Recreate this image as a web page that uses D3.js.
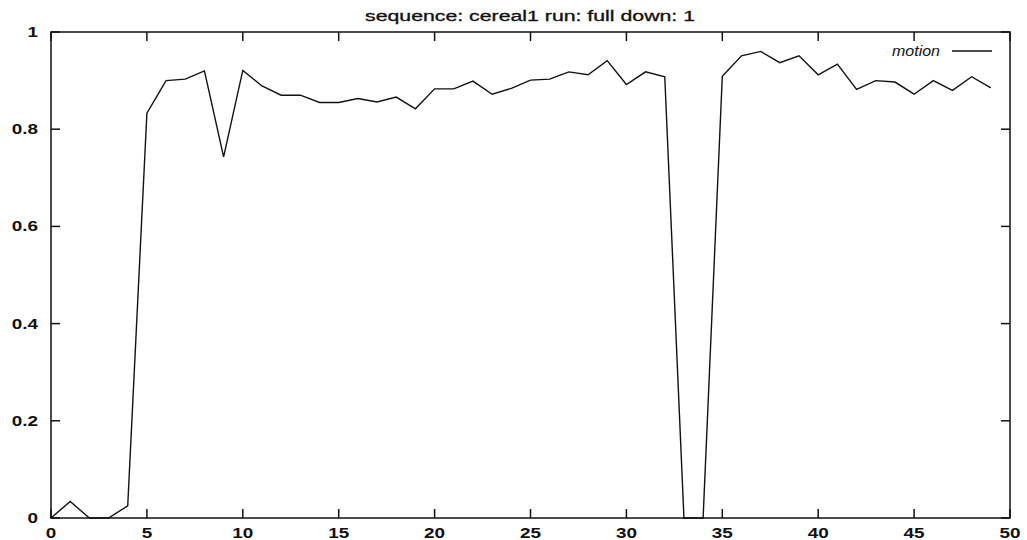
<!DOCTYPE html>
<html lang="en">
	<head>
		<meta charset="utf-8">
		<title>motion</title>
		<script type="text/javascript" src="https://cdn.jsdelivr.net/npm/d3@7"></script>
		<style type="text/css">
			body { margin: 0; background: #fff; }
			text { font-family: "Liberation Sans", Arial, sans-serif; fill: #111; }
		</style>
	</head>
	<body>
		<script type="text/javascript">

			var frames = d3.range(0, 50)
			var motion = [0, 0.034, 0, 0, 0.025, 0.833, 0.900, 0.903, 0.920, 0.743,
				0.921, 0.889, 0.870, 0.870, 0.855, 0.855, 0.863, 0.856, 0.866, 0.842,
				0.883, 0.883, 0.899, 0.872, 0.884, 0.901, 0.903, 0.918, 0.912, 0.941,
				0.892, 0.918, 0.908, 0, 0, 0.909, 0.951, 0.960, 0.937, 0.951,
				0.912, 0.934, 0.882, 0.900, 0.897, 0.872, 0.900, 0.880, 0.908, 0.885]
			var xticks = [0, 5, 10, 15, 20, 25, 30, 35, 40, 45, 50]
			var yticks = [0, 0.2, 0.4, 0.6, 0.8, 1]
			var title = "sequence: cereal1 run: full down: 1"
			var seriesName = "motion"

			var w = 1027, h = 540
			var pLeft = 51, pRight = 1010, pTop = 32, pBottom = 518
			var stretch = 1.35   // the scanned glyphs are wide

			var svg = d3.select("body").append("svg").attr("width", w).attr("height", h)

			var xscale = d3.scaleLinear().domain([0, 50]).range([pLeft, pRight])
			var yscale = d3.scaleLinear().domain([0, 1]).range([pBottom, pTop])

			// frame
			svg.append("rect")
				.attr("x", pLeft).attr("y", pTop)
				.attr("width", pRight - pLeft).attr("height", pBottom - pTop)
				.attr("fill", "none").attr("stroke", "#111").attr("stroke-width", 1.5)

			// ticks on all four sides, pointing inward
			var tl = 9
			svg.selectAll(".xtb").data(xticks).enter().append("line")
				.attr("x1", function(d) { return xscale(d) }).attr("x2", function(d) { return xscale(d) })
				.attr("y1", pBottom).attr("y2", pBottom - tl)
				.attr("stroke", "#111").attr("stroke-width", 1.5)
			svg.selectAll(".xtt").data(xticks).enter().append("line")
				.attr("x1", function(d) { return xscale(d) }).attr("x2", function(d) { return xscale(d) })
				.attr("y1", pTop).attr("y2", pTop + tl)
				.attr("stroke", "#111").attr("stroke-width", 1.5)
			svg.selectAll(".ytl").data(yticks).enter().append("line")
				.attr("x1", pLeft).attr("x2", pLeft + tl)
				.attr("y1", function(d) { return yscale(d) }).attr("y2", function(d) { return yscale(d) })
				.attr("stroke", "#111").attr("stroke-width", 1.5)
			svg.selectAll(".ytr").data(yticks).enter().append("line")
				.attr("x1", pRight).attr("x2", pRight - tl)
				.attr("y1", function(d) { return yscale(d) }).attr("y2", function(d) { return yscale(d) })
				.attr("stroke", "#111").attr("stroke-width", 1.5)

			// tick labels
			svg.selectAll(".xl").data(xticks).enter().append("text")
				.attr("transform", function(d) { return "translate(" + xscale(d) + "," + (pBottom + 20) + ") scale(" + stretch + ",1)" })
				.attr("text-anchor", "middle")
				.attr("font-size", "14px").attr("font-weight", "bold")
				.text(function(d) { return d })
			svg.selectAll(".yl").data(yticks).enter().append("text")
				.attr("transform", function(d) { return "translate(" + (pLeft - 13) + "," + (yscale(d) + 5) + ") scale(" + stretch + ",1)" })
				.attr("text-anchor", "end")
				.attr("font-size", "14px").attr("font-weight", "bold")
				.text(function(d) { return d })

			// title
			svg.append("text")
				.attr("x", 530).attr("y", 21)
				.attr("text-anchor", "middle")
				.attr("font-size", "14px")
				.attr("textLength", 330).attr("lengthAdjust", "spacingAndGlyphs")
				.attr("stroke", "#111").attr("stroke-width", 0.3)
				.text(title)

			// series
			var line = d3.line()
				.x(function(d, i) { return xscale(frames[i]) })
				.y(function(d) { return yscale(d) })
			svg.append("path")
				.datum(motion)
				.attr("d", line)
				.attr("fill", "none").attr("stroke", "#111").attr("stroke-width", 1.4)
				.attr("stroke-linejoin", "miter")

			// legend
			svg.append("text")
				.attr("x", 940).attr("y", 56)
				.attr("text-anchor", "end")
				.attr("font-size", "15px").attr("font-style", "italic")
				.attr("textLength", 48).attr("lengthAdjust", "spacingAndGlyphs")
				.text(seriesName)
			svg.append("line")
				.attr("x1", 952).attr("x2", 992)
				.attr("y1", 51).attr("y2", 51)
				.attr("stroke", "#111").attr("stroke-width", 1.4)

		</script>
	</body>
</html>
